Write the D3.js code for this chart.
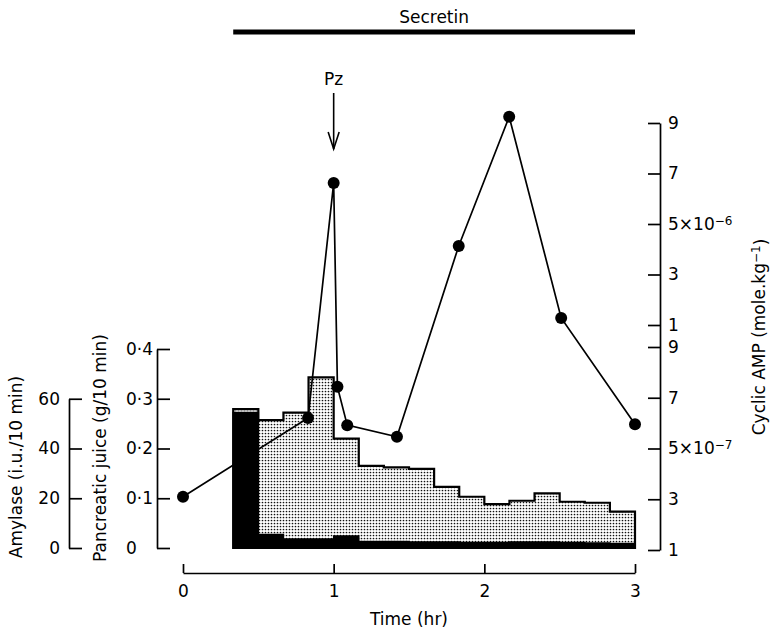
<!DOCTYPE html>
<html>
<head>
<meta charset="utf-8">
<script src="https://cdn.jsdelivr.net/npm/d3@7"></script>
<style>
body { margin: 0; background: #fff; }
svg { font-family: "DejaVu Sans", sans-serif; }
.axis path, .axis line { stroke: #000; stroke-width: 1.7px; }
.axis text { font-size: 17px; fill: #000; font-family: "DejaVu Sans", sans-serif; }
.title { font-size: 17px; fill: #000; }
</style>
</head>
<body>
<svg width="770" height="631"></svg>
<script>
// 10-min collection periods, start minute of each
var binStart = [20, 30, 40, 50, 60, 70, 80, 90, 100, 110, 120, 130, 140, 150, 160, 170];
var binLength = 10;
// pancreatic juice (g/10 min)
var juice = [0.279, 0.257, 0.272, 0.343, 0.220, 0.165, 0.162, 0.159, 0.123, 0.103, 0.088, 0.095, 0.110, 0.093, 0.091, 0.073];
// amylase (i.u./10 min)
var amylase = [54.5, 5.4, 3.6, 3.6, 4.8, 2.6, 2.6, 2.4, 2.4, 2.2, 2.2, 2.4, 2.4, 2.2, 2.0, 1.8];
// cyclic AMP (mole/kg)
var campTime = [0, 0.83, 1.0, 1.025, 1.09, 1.42, 1.83, 2.165, 2.51, 3.0];
var camp = [3.1e-7, 6.2e-7, 6.62e-6, 7.43e-7, 5.92e-7, 5.46e-7, 4.13e-6, 9.25e-6, 1.28e-6, 5.96e-7];

var timeTicks = [0, 1, 2, 3];
var juiceTicks = [0, 0.1, 0.2, 0.3, 0.4];
var amylaseTicks = [0, 20, 40, 60];
var campTicks = [1e-7, 3e-7, 5e-7, 7e-7, 9e-7, 1e-6, 3e-6, 5e-6, 7e-6, 9e-6];
var campLabels = [["1"], ["3"], ["5\u00d710", "\u22127"], ["7"], ["9"],
                  ["1"], ["3"], ["5\u00d710", "\u22126"], ["7"], ["9"]];
var secretinMin = [20, 180];
var pzTime = 1.0;

var svg = d3.select("svg");

var x = d3.scaleLinear().domain([0, 3]).range([183, 635]);
var yJuice = d3.scaleLinear().domain([0, 0.4]).range([548, 349]);
var yAmy = d3.scaleLinear().domain([0, 60]).range([548, 398.75]);
// broken axis: two linear pieces, 1-9 x10^-7 and 1-9 x10^-6
var yCamp = d3.scaleLinear().domain([1e-7, 9e-7, 1e-6, 9e-6]).range([550, 347, 325, 123]);

var defs = svg.append("defs");
var pat = defs.append("pattern")
    .attr("id", "stipple")
    .attr("patternUnits", "userSpaceOnUse")
    .attr("width", 3).attr("height", 3);
pat.append("rect").attr("width", 3).attr("height", 3).attr("fill", "#fff");
pat.append("circle").attr("cx", 1.5).attr("cy", 1.5).attr("r", 0.85).attr("fill", "#111");

// step outline points for a series
function steps(vals, yScale) {
    var pts = [[x(binStart[0] / 60), yScale(0)]];
    vals.forEach(function(v, i) {
        pts.push([x(binStart[i] / 60), yScale(v)]);
        pts.push([x((binStart[i] + binLength) / 60), yScale(v)]);
    });
    pts.push([x((binStart[binStart.length - 1] + binLength) / 60), yScale(0)]);
    return pts;
}

var line = d3.line();

svg.append("path")
    .attr("d", line(steps(juice, yJuice)) + "Z")
    .attr("fill", "url(#stipple)");

svg.append("path")
    .attr("d", line(steps(amylase, yAmy)) + "Z")
    .attr("fill", "#000")
    .attr("stroke", "#000")
    .attr("stroke-width", 1.5);

svg.append("path")
    .attr("d", line(steps(juice, yJuice)) + "Z")
    .attr("fill", "none")
    .attr("stroke", "#000")
    .attr("stroke-width", 2.2);

// cyclic AMP line
var campPts = campTime.map(function(t, i) { return [x(t), yCamp(camp[i])]; });
svg.append("path")
    .attr("d", line(campPts))
    .attr("fill", "none")
    .attr("stroke", "#000")
    .attr("stroke-width", 1.7);

svg.selectAll(".dot")
    .data(campPts)
    .enter().append("circle")
        .attr("class", "dot")
        .attr("cx", function(d) { return d[0]; })
        .attr("cy", function(d) { return d[1]; })
        .attr("r", 6)
        .attr("fill", "#000");

// time axis
svg.append("g")
    .attr("class", "axis")
    .attr("transform", "translate(0,573)")
    .call(d3.axisBottom(x).tickValues(timeTicks).tickFormat(d3.format("d"))
        .tickSize(-9).tickSizeOuter(0).tickPadding(12));

svg.append("text")
    .attr("class", "title")
    .attr("x", 409).attr("y", 625)
    .attr("text-anchor", "middle")
    .text("Time (hr)");

// pancreatic juice axis
var gJuice = svg.append("g")
    .attr("class", "axis")
    .attr("transform", "translate(157,0)")
    .call(d3.axisLeft(yJuice).tickValues(juiceTicks)
        .tickFormat(function(d) { return d === 0 ? "0" : d.toFixed(1).replace(".", "\u00b7"); })
        .tickSize(-13).tickSizeOuter(0));
gJuice.selectAll("text").attr("text-anchor", "start").attr("x", -31);

svg.append("text")
    .attr("class", "title")
    .attr("transform", "translate(106,448) rotate(-90)")
    .attr("text-anchor", "middle")
    .text("Pancreatic juice (g/10 min)");

// amylase axis
svg.append("g")
    .attr("class", "axis")
    .attr("transform", "translate(69,0)")
    .call(d3.axisLeft(yAmy).tickValues(amylaseTicks)
        .tickSize(-13).tickSizeOuter(0).tickPadding(9));

svg.append("text")
    .attr("class", "title")
    .attr("transform", "translate(22,467) rotate(-90)")
    .attr("text-anchor", "middle")
    .text("Amylase (i.u./10 min)");

// cyclic AMP axis
var gCamp = svg.append("g")
    .attr("class", "axis")
    .attr("transform", "translate(660,0)")
    .call(d3.axisRight(yCamp).tickValues(campTicks).tickFormat("")
        .tickSize(-12).tickSizeOuter(0).tickPadding(8));
gCamp.selectAll(".tick text").each(function(d, i) {
    var t = d3.select(this);
    var lab = campLabels[i];
    t.append("tspan").text(lab[0]);
    if (lab[1]) {
        t.append("tspan").attr("dy", "-0.45em").style("font-size", "12px").text(lab[1]);
    }
});

var ct = svg.append("text")
    .attr("class", "title")
    .attr("transform", "translate(765,337) rotate(-90)")
    .attr("text-anchor", "middle");
ct.append("tspan").text("Cyclic AMP (mole.kg");
ct.append("tspan").attr("dy", "-0.45em").style("font-size", "12px").text("\u22121");
ct.append("tspan").attr("dy", "0.45em").text(")");

// secretin infusion bar
svg.append("line")
    .attr("x1", x(secretinMin[0] / 60)).attr("x2", x(secretinMin[1] / 60))
    .attr("y1", 32).attr("y2", 32)
    .attr("stroke", "#000").attr("stroke-width", 5);
svg.append("text")
    .attr("class", "title")
    .attr("x", (x(secretinMin[0] / 60) + x(secretinMin[1] / 60)) / 2)
    .attr("y", 22.5)
    .attr("text-anchor", "middle")
    .text("Secretin");

// Pz arrow
var px = x(pzTime);
svg.append("text")
    .attr("class", "title")
    .attr("x", px).attr("y", 85)
    .attr("text-anchor", "middle")
    .text("Pz");
svg.append("line")
    .attr("x1", px).attr("x2", px).attr("y1", 93).attr("y2", 149)
    .attr("stroke", "#000").attr("stroke-width", 1.6);
svg.append("path")
    .attr("d", line([[px - 5.5, 132], [px, 149], [px + 5.5, 132]]))
    .attr("fill", "none").attr("stroke", "#000").attr("stroke-width", 1.6);
</script>
</body>
</html>
